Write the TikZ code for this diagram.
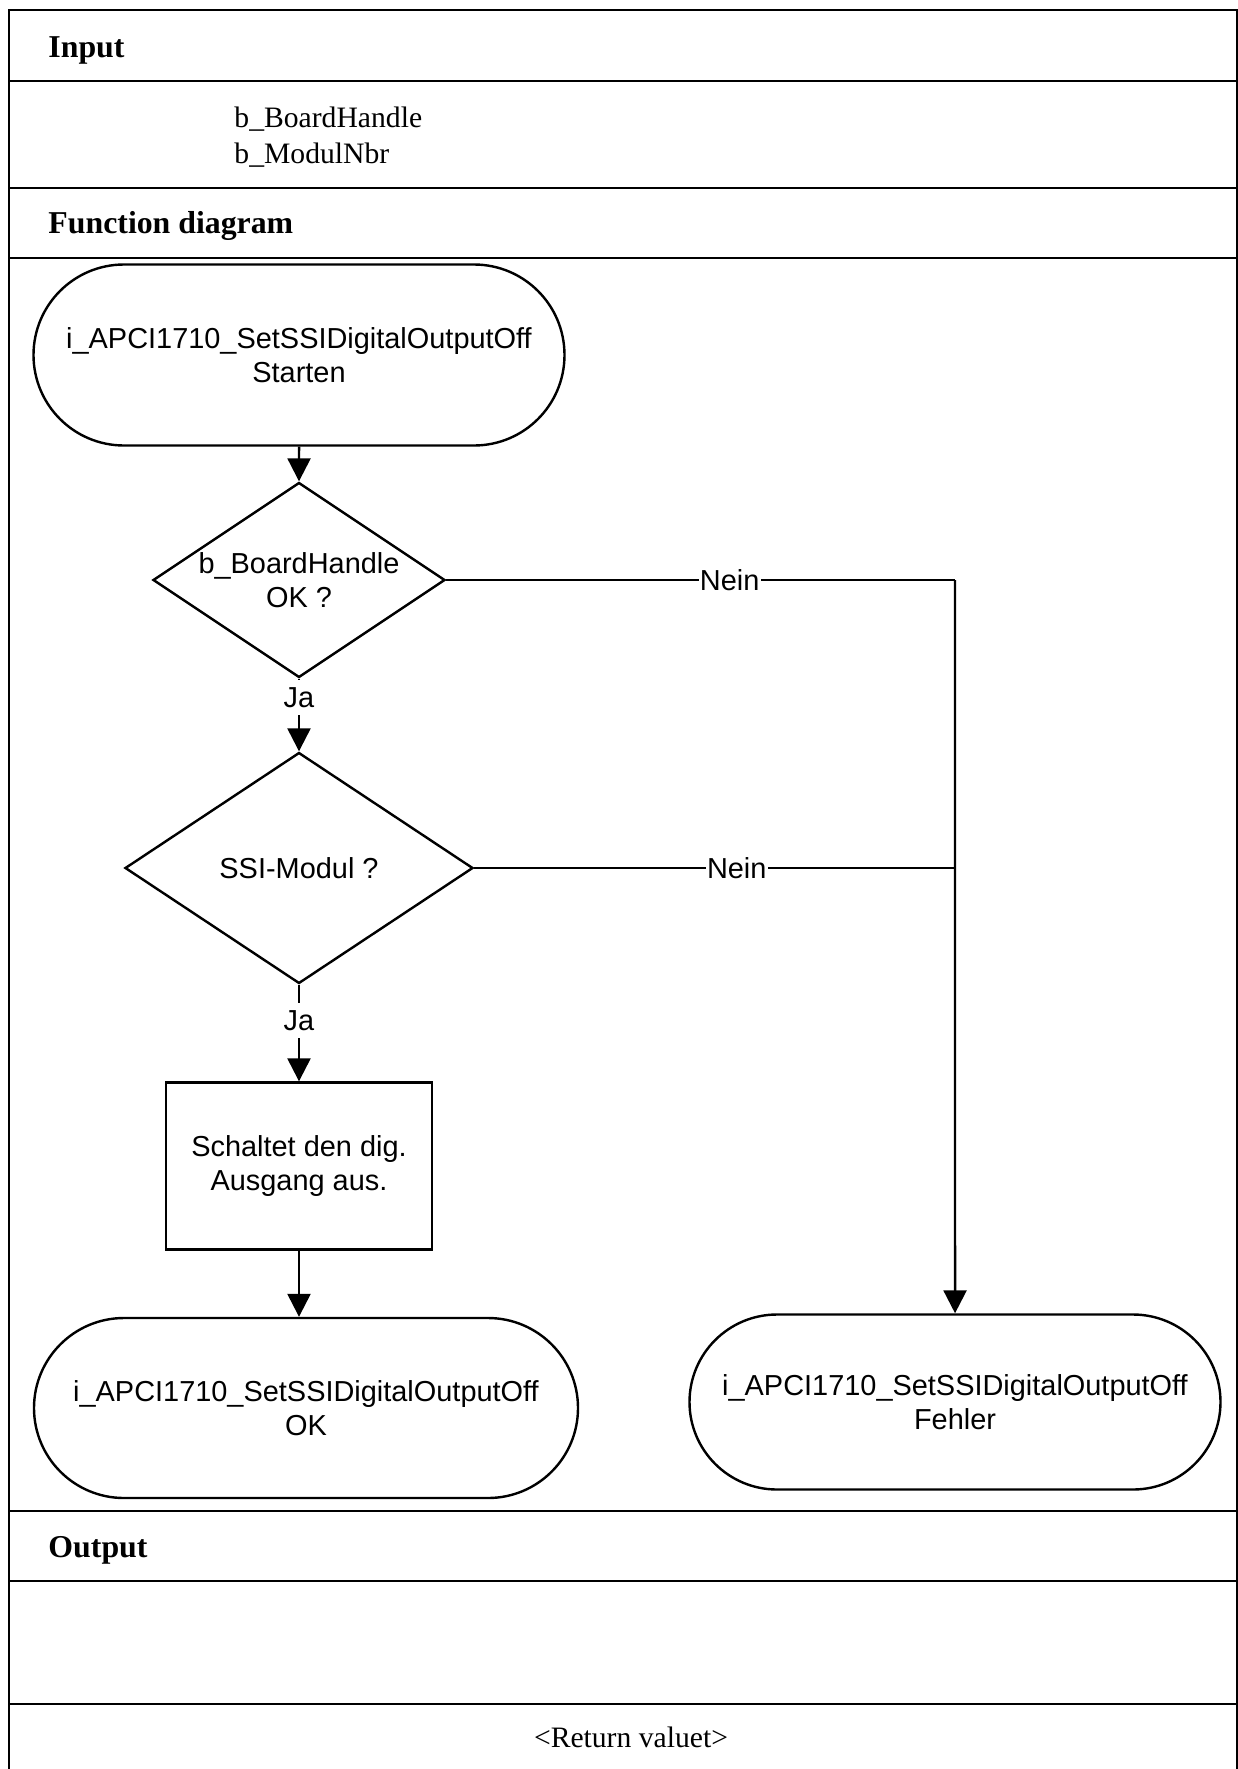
\documentclass[tikz,border=0pt]{standalone}
\usepackage{fontspec}
\setmainfont{Liberation Serif}
\newfontfamily\chartfont{Liberation Sans}
\usetikzlibrary{shapes.geometric, shapes.misc, arrows.meta, positioning}
\def\px{0.415pt}
\tikzset{
  % Frame styles
  framebox/.style={draw, line width=1pt},
  headtext/.style={anchor=base west, inner sep=0pt, font=\fontsize{13.2pt}{15pt}\selectfont\bfseries},
  bodytext/.style={anchor=base west, inner sep=0pt, font=\fontsize{12.3pt}{14pt}\selectfont},
  % Flowchart styles
  terminal/.style={rounded rectangle, draw, line width=1pt, minimum width=531*\px, minimum height=181*\px, inner sep=0pt, font=\chartfont\fontsize{12pt}{14pt}\selectfont, align=center},
  decision/.style={diamond, draw, line width=1pt, inner sep=0pt},
  actionbox/.style={rectangle, draw, line width=1pt, minimum width=266*\px, minimum height=167*\px, font=\chartfont\fontsize{12pt}{14pt}\selectfont, align=center},
  flowtext/.style={font=\chartfont\fontsize{12pt}{14pt}\selectfont, align=center},
  flowlabel/.style={font=\chartfont\fontsize{12pt}{14pt}\selectfont, fill=white, inner xsep=0.5pt, inner ysep=3pt},
  % Arrow styles
  arrow/.style={-{Triangle[length=9.5pt, width=9.5pt]}, line width=1pt},
  plainline/.style={line width=1pt}
}

\begin{document}
\begin{tikzpicture}[x=\px, y=-\px]
  \useasboundingbox (0,0) rectangle (1238,1769);

  % Frame and bands (open at the bottom)
  \draw[framebox] (9,1769) -- (9,10) -- (1237,10) -- (1237,1769);
  \foreach \y in {81,188,258,1511,1581,1704}
    \draw[framebox] (9,\y) -- (1237,\y);

  % Header texts
  \node[headtext] (input) at (48,57) {Input};
  \node[bodytext] (board) at (234,127) {b\_BoardHandle};
  \node[bodytext] (modul) at (234,163) {b\_ModulNbr};
  \node[headtext] (funcdiag) at (48,233) {Function diagram};
  \node[headtext] (output) at (48,1557) {Output};
  \node[bodytext, anchor=base] (retval) at (631,1747) {<Return valuet>};

  % Flowchart
  \node[terminal] (start) at (299,355) {i\_APCI1710\_SetSSIDigitalOutputOff\\Starten};
  \node[decision, minimum width=292*\px, minimum height=195*\px] (boardok) at (299,580) {};
  \node[flowtext] (boardoktext) at (boardok) {b\_BoardHandle\\OK ?};
  \node[decision, minimum width=348*\px, minimum height=231*\px] (ssimod) at (299,868) {};
  \node[flowtext] (ssimodtext) at (ssimod) {SSI-Modul ?};
  \node[actionbox] (switchoff) at (299,1166) {Schaltet den dig.\\Ausgang aus.};
  \node[terminal, minimum width=544*\px, minimum height=180*\px] (okend) at (306,1408) {i\_APCI1710\_SetSSIDigitalOutputOff\\OK};
  \node[terminal, minimum height=175*\px] (errend) at (955,1402) {i\_APCI1710\_SetSSIDigitalOutputOff\\Fehler};
  \coordinate (errjoin) at (boardok -| errend);

  \draw[arrow] (start) -- (boardok);
  \draw[arrow] (boardok) -- node[flowlabel, pos=0.26] {Ja} (ssimod);
  \draw[arrow] (ssimod) -- node[flowlabel, pos=0.37] {Ja} (switchoff);
  \draw[arrow] (switchoff) -- (switchoff.south |- okend.north);

  % Error branch
  \draw[plainline] (boardok) -- node[flowlabel, pos=0.557] {Nein} (errjoin);
  \draw[plainline] (ssimod) -- node[flowlabel, pos=0.546] {Nein} (ssimod -| errend);
  \draw[arrow] (errjoin) -- (errend);
\end{tikzpicture}
\end{document}
